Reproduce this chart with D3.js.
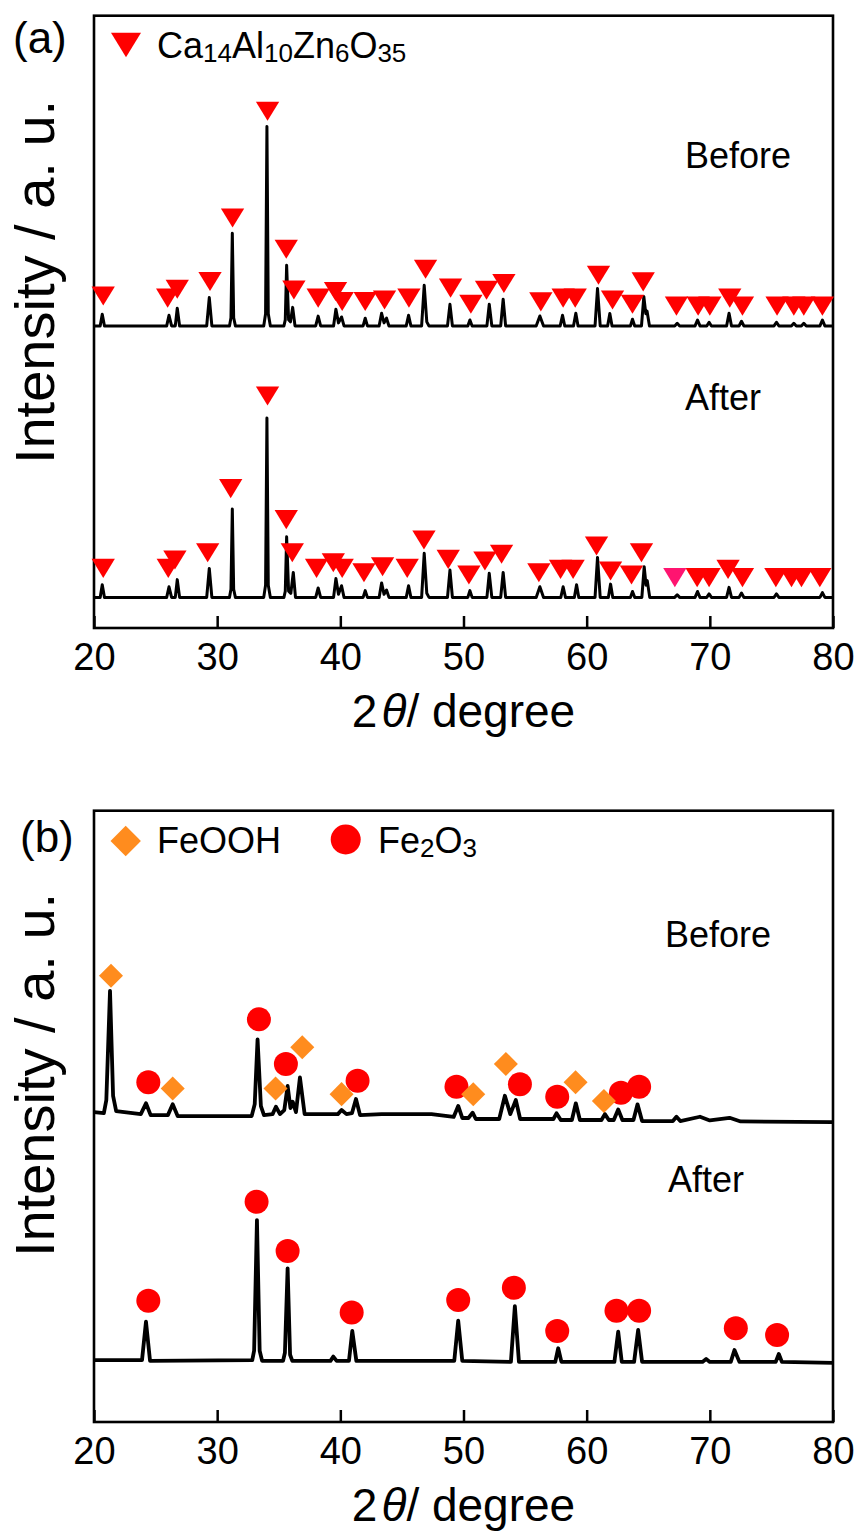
<!DOCTYPE html>
<html>
<head>
<meta charset="utf-8">
<script src="https://cdn.jsdelivr.net/npm/d3@7"></script>
<style>
  body { margin: 0; background: #fff; }
  text { font-family: "Liberation Sans", Arial, sans-serif; fill: #000; }
</style>
</head>
<body>
<div id="chart"></div>
<script>
/* CONSTANTS AND GLOBALS */
const width = 861,
  height = 1532;

const xTicks = [20, 30, 40, 50, 60, 70, 80];

// (a) Ca14Al10Zn6O35 -- [2theta, intensity above the pattern's own baseline]
const offsetBeforeA = 148, offsetAfterA = 15;
const beforeA = [[20,0],[20.5,0],[20.67,5.7],[20.85,0],[25.9,0],[26.09,5.2],[26.3,0],[26.6,0],[26.76,8.7],[26.95,0],
  [29.15,0],[29.36,13.9],[29.57,0],[31.0,0],[31.12,4],[31.23,45.4],[31.34,4],[31.48,0],
  [33.78,0],[33.93,6],[34.04,97.7],[34.15,6],[34.32,0],[35.42,0],[35.53,3],[35.64,29.7],[35.8,3],[35.95,2],[36.13,9.1],[36.32,0],
  [38.0,0],[38.2,4.8],[38.4,0],[39.45,0],[39.64,8.2],[39.85,1.5],[40.1,4.4],[40.3,0],[41.85,0],[42.02,3.8],[42.2,0],
  [43.15,0],[43.35,6.2],[43.55,1.5],[43.75,3.8],[43.95,0],[45.35,0],[45.54,5.2],[45.73,0],[46.6,0],[46.81,19.9],[47.02,2],[47.2,0],
  [48.7,0],[48.9,10.6],[49.1,0],[50.35,0],[50.52,2.9],[50.7,0],[51.9,0],[52.09,10.6],[52.3,0],[53.02,0],[53.22,13.1],[53.42,0],
  [55.9,0],[56.2,4.9],[56.5,0],[57.85,0],[58.04,5.2],[58.22,0],[58.93,0],[59.12,6.2],[59.3,0],[60.68,0],[60.88,18.3],[61.1,0],
  [61.7,0],[61.88,6.1],[62.06,0],[63.55,0],[63.72,3.3],[63.9,0],[64.45,0],[64.64,14.4],[64.8,6],[64.9,7.3],[65.1,0],
  [67.15,0],[67.35,1.3],[67.55,0],[68.8,0],[69.0,2.9],[69.2,0],[69.75,0],[69.94,1.8],[70.13,0],[71.36,0],[71.56,6.2],[71.76,0],
  [72.37,0],[72.57,2.3],[72.77,0],[75.21,0],[75.41,1.8],[75.61,0],[76.62,0],[76.82,1.3],[77.02,0],[77.43,0],[77.63,1.3],[77.83,0],
  [78.94,0],[79.14,2.9],[79.34,0],[80,0]];
const afterA = [[20,0],[20.5,0],[20.67,6.2],[20.85,0],[25.9,0],[26.09,5.2],[26.3,0],[26.6,0],[26.76,8.7],[26.95,0],
  [29.15,0],[29.36,14.2],[29.57,0],[31.0,0],[31.12,4],[31.23,43.3],[31.34,4],[31.48,0],
  [33.78,0],[33.93,6],[34.04,87.9],[34.15,6],[34.32,0],[35.42,0],[35.53,3],[35.64,29.7],[35.8,3],[35.98,2],[36.18,12.2],[36.36,0],
  [38.0,0],[38.2,4.6],[38.4,0],[39.45,0],[39.64,9.2],[39.85,1.5],[40.1,5.7],[40.3,0],[41.85,0],[42.02,3.3],[42.2,0],
  [43.15,0],[43.35,7.1],[43.55,1.5],[43.75,3.6],[43.95,0],[45.35,0],[45.54,5.7],[45.73,0],[46.6,0],[46.81,21.6],[47.02,2],[47.2,0],
  [48.7,0],[48.9,13.4],[49.1,0],[50.35,0],[50.52,3.3],[50.7,0],[51.9,0],[52.09,11.8],[52.3,0],[53.02,0],[53.22,12.2],[53.42,0],
  [55.9,0],[56.2,5.2],[56.5,0],[57.9,0],[58.09,5.2],[58.28,0],[59.0,0],[59.18,6.2],[59.36,0],[60.68,0],[60.88,19.6],[61.1,0],
  [61.76,0],[61.94,6.5],[62.12,0],[63.55,0],[63.72,2.9],[63.9,0],[64.48,0],[64.67,15.0],[64.82,6],[64.92,8.2],[65.12,0],
  [67.15,0],[67.35,1.3],[67.55,0],[68.8,0],[69.0,2.9],[69.2,0],[69.75,0],[69.94,1.7],[70.13,0],[71.36,0],[71.56,4.9],[71.76,0],
  [72.37,0],[72.57,2.1],[72.77,0],[75.21,0],[75.41,1.7],[75.61,0],[78.94,0],[79.14,2.3],[79.34,0],[80,0]];

// triangle marks, same baseline convention
const markBeforeA = [[20.75,14.7],[25.98,13.6],[26.76,18.0],[29.42,21.8],[31.25,52.9],[34.09,105.2],[35.61,37.6],[36.23,17.6],
  [38.2,13.6],[39.61,16.9],[40.15,12.0],[42.02,12.0],[43.59,12.7],[45.57,13.6],[46.92,27.8],[48.95,18.5],[50.6,10.6],[51.87,17.5],
  [53.28,20.8],[56.28,11.8],[58.09,13.6],[59.07,13.6],[60.96,24.8],[62.1,12.7],[63.72,10.6],[64.59,21.6],[67.29,9.7],[69.05,9.7],
  [70.0,9.7],[71.62,13.6],[72.65,9.7],[75.46,9.7],[76.82,9.7],[77.63,9.7],[79.14,9.7]];
const markAfterA = [[20.75,14.2],[26.03,14.2],[26.57,18.3],[29.23,21.9],[31.1,53.3],[34.09,98.7],[35.61,38.1],[36.1,21.9],
  [38.07,14.2],[39.43,17.0],[40.15,14.2],[41.92,12.1],[43.43,15.0],[45.43,14.2],[46.79,28.1],[48.76,18.6],[50.44,11.0],[51.74,17.8],
  [53.09,21.1],[56.12,12.1],[57.88,13.7],[58.9,13.7],[60.8,25.2],[61.94,12.9],[63.64,11.0],[64.45,21.9],[68.97,9.7],[69.94,9.7],
  [71.48,13.7],[72.65,9.7],[75.36,9.7],[76.63,9.7],[77.44,9.7],[78.93,9.7]];
const markAfterAPink = [[67.16,9.7]];

// (b) iron oxides
const offsetBeforeB = 150, offsetAfterB = 30;
const beforeB = [[20,2.1],[20.8,1.6],[21.0,8],[21.3,61.6],[21.55,10],[21.8,2.6],[23.8,1.1],[24.22,6.4],[24.6,0.6],[26.0,0.6],
  [26.39,5.9],[26.8,0.1],[32.8,0.1],[33.05,6],[33.28,37.8],[33.55,5],[33.8,0.6],[34.5,1.1],[34.77,4.7],[35.1,1.1],[35.45,3.1],
  [35.72,14.9],[35.95,4.1],[36.13,7.2],[36.4,2.1],[36.72,19.1],[37.1,1.1],[39.16,1.1],[39.8,1.1],[40.1,3.1],[40.5,1.1],[40.95,1.6],
  [41.27,8.5],[41.6,0.6],[43.35,1.1],[47.4,1.1],[49.2,-0.3],[49.57,5.1],[49.9,-0.8],[50.4,-0.8],[50.74,1.8],[51.0,-1.3],[52.9,-1.3],
  [53.36,10.1],[53.8,1.1],[54.25,8.0],[54.6,-1.3],[57.3,-1.3],[57.55,1.5],[57.9,-1.8],[58.8,-1.8],[59.12,6.4],[59.45,-1.8],
  [61.2,-1.8],[61.48,1.1],[61.8,-1.8],[62.2,-1.8],[62.56,3.4],[62.9,-1.8],[63.8,-1.8],[64.13,5.9],[64.5,-2.3],[67.0,-2.3],
  [67.29,-0.2],[67.6,-2.3],[69.2,-0.2],[70.0,-2.0],[71.6,-0.7],[72.5,-2.5],[80,-2.8]];
const afterB = [[20,0.4],[23.9,0.4],[24.22,19.2],[24.55,0],[32.85,0.4],[33.0,5],[33.23,69.1],[33.45,5],[33.65,0],[35.35,0],
  [35.5,4],[35.72,45.4],[35.92,3],[36.1,0],[39.2,0],[39.43,2.1],[39.7,0],[40.7,0],[40.97,14.7],[41.3,0],[49.25,0],[49.57,19.7],
  [49.9,0],[53.85,-0.5],[54.17,26.9],[54.5,-0.5],[57.45,-0.5],[57.69,6.2],[57.95,-0.5],[62.25,-0.5],[62.56,14.3],[62.85,-0.5],
  [63.85,-0.5],[64.18,15.2],[64.5,-0.5],[69.4,-0.5],[69.7,0.9],[70.0,-0.5],[71.7,-0.5],[72.0,5.3],[72.4,-0.5],[75.35,-0.5],
  [75.6,3.4],[75.85,-0.5],[80,-1]];
const feoohBeforeB = [[21.38,69.0],[26.39,13.7],[34.74,13.7],[36.91,33.9],[40.1,10.9],[50.79,10.8],[53.44,25.7],[59.1,16.7],[61.4,7.5]];
const fe2o3BeforeB = [[24.41,16.7],[33.39,47.7],[35.58,25.7],[41.4,17.5],[49.43,14.5],[54.58,15.7],[57.61,9.6],[62.78,11.6],[64.26,14.5]];
const fe2o3AfterB = [[24.41,29.5],[33.2,78.1],[35.72,53.9],[40.92,23.7],[49.57,29.9],[54.09,35.9],[57.61,14.7],[62.42,24.6],
  [64.26,24.6],[72.11,16.0],[75.46,12.7]];

const RED = "#ff0000", PINK = "#ff1470", ORANGE = "#ff8c1e";

// down-pointing triangle whose box is centred on the point
const triDown = {
  draw(ctx, size) {
    const w = Math.sqrt(size), h = w * 0.82;
    ctx.moveTo(-w / 2, -h / 2);
    ctx.lineTo(w / 2, -h / 2);
    ctx.lineTo(0, h / 2);
    ctx.closePath();
  }
};

const svg = d3.select("#chart").append("svg")
  .attr("width", width)
  .attr("height", height);

function panel(top, bottom, label, labelX, labelY, yLabelY) {
  const x = d3.scaleLinear().domain([20, 80]).range([94, 833]);
  const y = d3.scaleLinear().domain([0, 300]).range([bottom, top]);
  const g = svg.append("g");

  // bottom axis with inward ticks
  g.append("g")
    .attr("transform", `translate(0,${bottom})`)
    .call(d3.axisBottom(x).tickValues(xTicks).tickSizeInner(-12).tickSizeOuter(0).tickPadding(15))
    .call(a => a.select(".domain").remove())
    .call(a => a.selectAll("line").attr("stroke", "#000").attr("stroke-width", 2.5))
    .call(a => a.selectAll("text").attr("font-size", 38).attr("fill", "#000")
      .attr("font-family", '"Liberation Sans", Arial, sans-serif'));

  g.append("rect")
    .attr("x", x(20)).attr("y", top)
    .attr("width", x(80) - x(20)).attr("height", bottom - top)
    .attr("fill", "none").attr("stroke", "#000").attr("stroke-width", 2.6);

  const title = g.append("text")
    .attr("x", (x(20) + x(80)) / 2).attr("y", bottom + 99)
    .attr("text-anchor", "middle").attr("font-size", 46);
  title.append("tspan").text("2");
  title.append("tspan").attr("dx", 4).attr("font-style", "italic").text("θ");
  title.append("tspan").text("/ degree");

  g.append("text")
    .attr("transform", `translate(54,${yLabelY}) rotate(-90)`)
    .attr("text-anchor", "middle").attr("font-size", 56)
    .text("Intensity / a. u.");

  g.append("text").attr("x", labelX).attr("y", labelY).attr("font-size", 44).text(label);

  return { g, x, y };
}

function pattern(p, data, offset, sw) {
  const line = d3.line().x(d => p.x(d[0])).y(d => p.y(d[1] + offset));
  p.g.append("path")
    .datum(data)
    .attr("d", line)
    .attr("fill", "none")
    .attr("stroke", "#000")
    .attr("stroke-width", sw)
    .attr("stroke-linejoin", "round");
}

function marks(p, data, offset, type, size, color, rotate) {
  p.g.append("g").selectAll("path")
    .data(data)
    .join("path")
    .attr("transform", d => `translate(${p.x(d[0])},${p.y(d[1] + offset)})${rotate ? " rotate(45)" : ""}`)
    .attr("d", d3.symbol().type(type).size(size))
    .attr("fill", color);
}

/* PANEL (a) */
const pa = panel(15.7, 628, "(a)", 13, 53, 282);
pattern(pa, beforeA, offsetBeforeA, 3);
pattern(pa, afterA, offsetAfterA, 3);
marks(pa, markBeforeA, offsetBeforeA, triDown, 23.3 * 23.3, RED);
marks(pa, markAfterA, offsetAfterA, triDown, 23.3 * 23.3, RED);
marks(pa, markAfterAPink, offsetAfterA, triDown, 23.3 * 23.3, PINK);

pa.g.append("path")
  .attr("transform", "translate(126,45)")
  .attr("d", d3.symbol().type(triDown).size(30 * 30))
  .attr("fill", RED);
const legA = pa.g.append("text").attr("x", 157).attr("y", 58).attr("font-size", 36);
[["Ca", false], ["14", true], ["Al", false], ["10", true], ["Zn", false], ["6", true], ["O", false], ["35", true]]
  .forEach(([t, sub]) => {
    legA.append("tspan").attr("font-size", sub ? 26 : 36).attr("dy", sub ? 4 : -4).text(t);
  });
legA.select("tspan").attr("dy", 0);

pa.g.append("text").attr("x", 685).attr("y", 168).attr("font-size", 36).text("Before");
pa.g.append("text").attr("x", 685).attr("y", 410).attr("font-size", 36).text("After");

/* PANEL (b) */
const pb = panel(810.7, 1422, "(b)", 20, 852, 1075);
pattern(pb, beforeB, offsetBeforeB, 3.8);
pattern(pb, afterB, offsetAfterB, 3.8);
marks(pb, fe2o3BeforeB, offsetBeforeB, d3.symbolCircle, Math.PI * 12 * 12, RED);
marks(pb, feoohBeforeB, offsetBeforeB, d3.symbolSquare, 17 * 17, ORANGE, true);
marks(pb, fe2o3AfterB, offsetAfterB, d3.symbolCircle, Math.PI * 12 * 12, RED);

pb.g.append("path")
  .attr("transform", "translate(125.7,841) rotate(45)")
  .attr("d", d3.symbol().type(d3.symbolSquare).size(21.5 * 21.5))
  .attr("fill", ORANGE);
pb.g.append("text").attr("x", 157).attr("y", 853).attr("font-size", 36).text("FeOOH");
pb.g.append("circle").attr("cx", 345.7).attr("cy", 839.5).attr("r", 15).attr("fill", RED);
const legB = pb.g.append("text").attr("x", 378).attr("y", 853).attr("font-size", 36);
legB.append("tspan").text("Fe");
legB.append("tspan").attr("font-size", 26).attr("dy", 4).text("2");
legB.append("tspan").attr("dy", -4).text("O");
legB.append("tspan").attr("font-size", 26).attr("dy", 4).text("3");

pb.g.append("text").attr("x", 665).attr("y", 947).attr("font-size", 36).text("Before");
pb.g.append("text").attr("x", 668).attr("y", 1192).attr("font-size", 36).text("After");
</script>
</body>
</html>
